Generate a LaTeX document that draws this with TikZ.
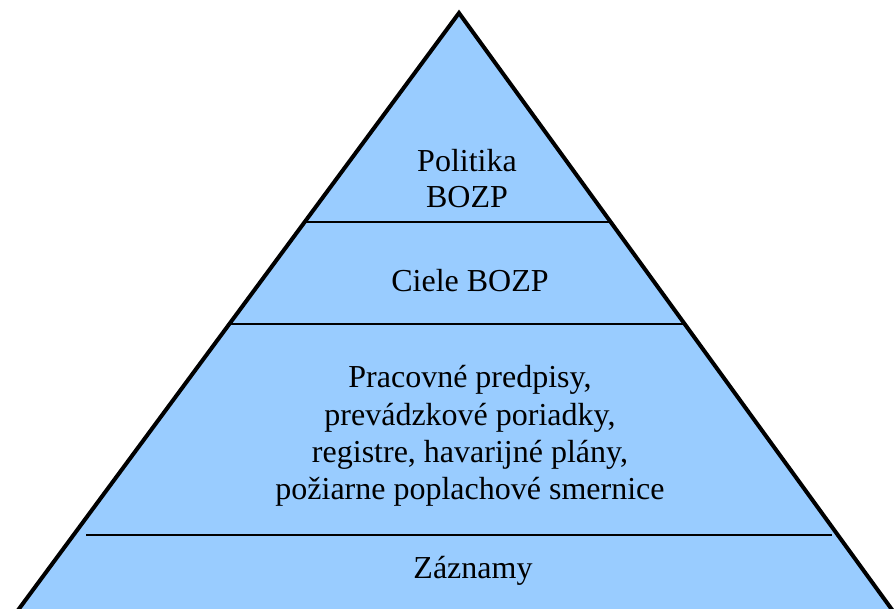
\documentclass[tikz,border=0pt]{standalone}
\usepackage{fontspec}
\setmainfont{Liberation Serif}
\usetikzlibrary{calc}
\definecolor{pyrfill}{HTML}{99CCFF}
\tikzset{
  level/.style={inner sep=0pt, anchor=base, font=\fontsize{32}{38}\selectfont},
  divider/.style={draw=black, line width=1.8pt},
  outline/.style={draw=black, line width=4pt, line join=miter}
}
\begin{document}
\begin{tikzpicture}[x=1pt, y=-1pt]
  \useasboundingbox (0,0) rectangle (895,609);
  \clip (0,0) rectangle (895,609);
  % pyramid corners (base lies below the visible area)
  \coordinate (apex) at (459,13);
  \coordinate (bl) at (-4,640);
  \coordinate (br) at (914,640);
  \fill[pyrfill] (apex) -- (bl) -- (br) -- cycle;
  % level dividers
  \draw[divider] ($(apex)!0.3333!(bl)$) coordinate (d1l) -- ($(apex)!0.3333!(br)$) coordinate (d1r);
  \draw[divider] ($(apex)!0.496!(bl)$) coordinate (d2l) -- ($(apex)!0.496!(br)$) coordinate (d2r);
  \coordinate (d3l) at (86,535);
  \coordinate (d3r) at (832,535);
  \draw[divider] (d3l) -- (d3r);
  % outline
  \draw[outline] (bl) -- (apex) -- (br);
  % labels
  \node[level] (pol1) at (467,172) {Politika};
  \node[level] (pol2) at (467,208) {BOZP};
  \node[level] (ciele) at (470,292) {Ciele BOZP};
  \node[level] (doc1) at (470,388) {Pracovné predpisy,};
  \node[level] (doc2) at (470,426) {prevádzkové poriadky,};
  \node[level] (doc3) at (470,463) {registre, havarijné plány,};
  \node[level] (doc4) at (470,500) {požiarne poplachové smernice};
  \node[level] (zaz) at (473,578) {Záznamy};
\end{tikzpicture}
\end{document}
